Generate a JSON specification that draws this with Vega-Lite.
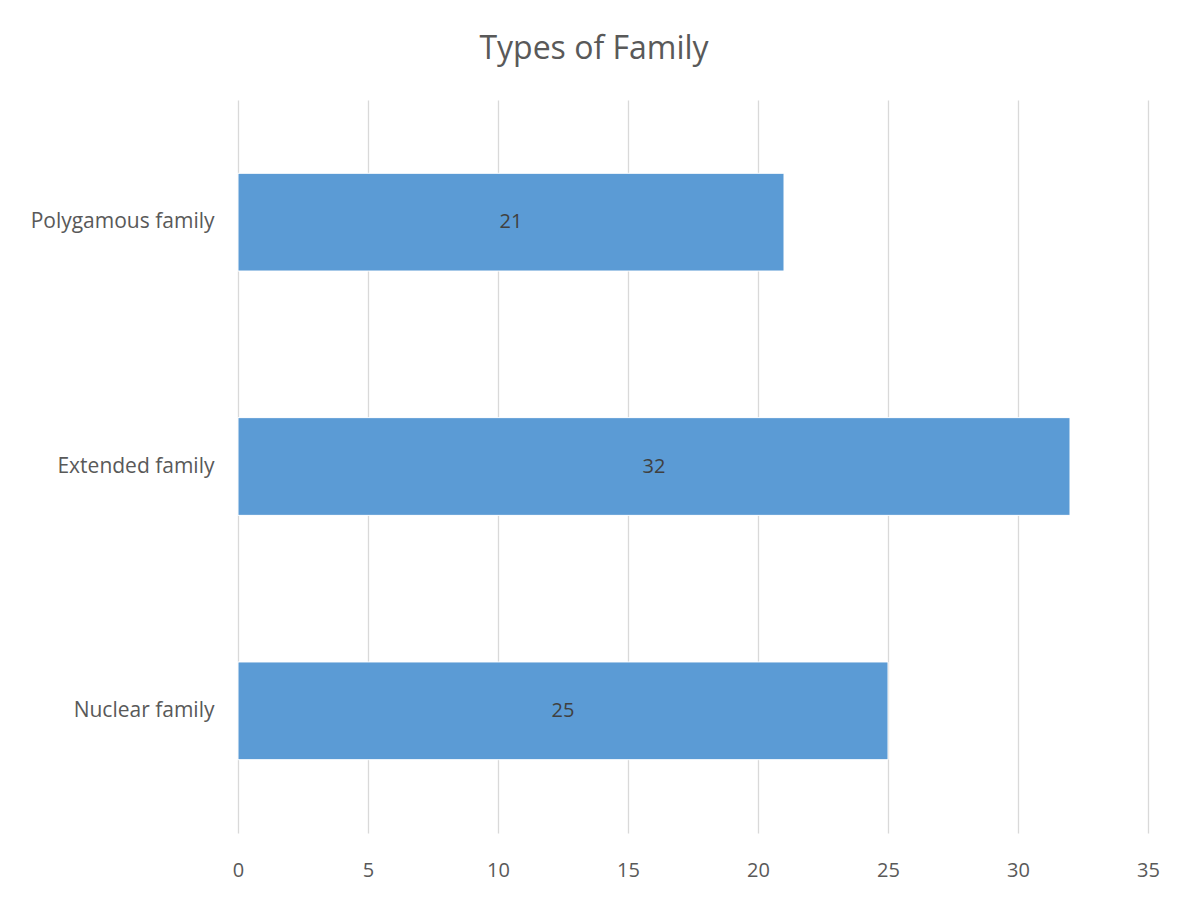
{
  "$schema": "https://vega.github.io/schema/vega-lite/v6.json",
  "autosize": "none",
  "width": 910,
  "height": 733,
  "padding": {"left": 238, "top": 100, "right": 40, "bottom": 82},
  "background": "white",
  "config": {"view": {"stroke": null}},
  "data": {"values": [
    {"type": "Polygamous family", "count": 21},
    {"type": "Extended family", "count": 32},
    {"type": "Nuclear family", "count": 25}
  ]},
  "title": {
    "text": "Types of Family",
    "fontSize": 32,
    "font": "Open Sans",
    "fontWeight": "normal",
    "color": "#595959",
    "anchor": "middle",
    "dx": -99,
    "offset": 34
  },
  "encoding": {
    "y": {
      "field": "type",
      "type": "nominal",
      "sort": ["Polygamous family", "Extended family", "Nuclear family"],
      "scale": {"paddingInner": 0.6, "paddingOuter": 0.3},
      "axis": {
        "title": null,
        "domain": false,
        "ticks": false,
        "labelPadding": 24,
        "labelLimit": 400,
        "labelFontSize": 21,
        "labelFont": "Open Sans",
        "labelColor": "#595959"
      }
    }
  },
  "layer": [
    {
      "mark": {"type": "bar", "color": "#5b9bd5", "stroke": "white", "strokeWidth": 1},
      "encoding": {
        "x": {
          "field": "count",
          "type": "quantitative",
          "scale": {"domain": [0, 35]},
          "axis": {
            "title": null,
            "values": [0, 5, 10, 15, 20, 25, 30, 35],
            "domain": false,
            "ticks": false,
            "grid": true,
            "gridColor": "#d9d9d9",
            "gridWidth": 1.3,
            "labelFlush": false,
            "labelPadding": 27,
            "labelFontSize": 20,
            "labelFont": "Open Sans",
            "labelColor": "#595959"
          }
        }
      }
    },
    {
      "mark": {"type": "text", "fontSize": 20, "font": "Open Sans", "color": "#404040", "align": "center", "baseline": "middle"},
      "encoding": {
        "x": {"field": "count", "type": "quantitative", "scale": {"domain": [0, 70]}, "axis": null},
        "text": {"field": "count", "type": "quantitative"}
      }
    }
  ],
  "resolve": {"scale": {"x": "independent"}}
}
